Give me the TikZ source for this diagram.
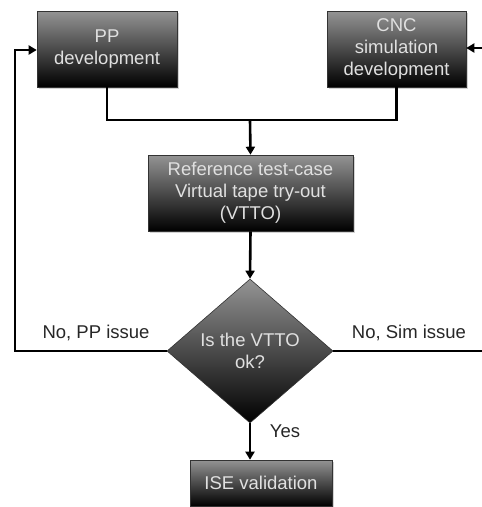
\documentclass[tikz,border=0pt]{standalone}
\usepackage{fontspec}
\setmainfont{Liberation Sans}
\usetikzlibrary{shapes.geometric,shadows,arrows.meta}
\begin{document}
\begin{tikzpicture}[x=1pt,y=-1pt,
  box/.style={rectangle, draw=black!80, line width=0.6pt, top color=black!42, bottom color=black,
    text=black!12, align=center, inner sep=0pt,
    drop shadow={shadow xshift=1.5pt, shadow yshift=-1.5pt, opacity=0.35},
    font=\fontsize{18.5}{22}\selectfont},
  dec/.style={diamond, draw=black!80, line width=0.6pt, top color=black!42, bottom color=black,
    text=black!12, align=center, inner sep=0pt, minimum width=166pt, minimum height=144pt,
    font=\fontsize{18.5}{22}\selectfont},
  lbl/.style={font=\fontsize{18.5}{22}\selectfont, text=black!85},
  conn/.style={line width=2.6pt, -{Triangle[length=8pt,width=9pt]}},
  plain/.style={line width=2.6pt}]
\useasboundingbox (0,0) rectangle (482,507);
\node[box, minimum width=140pt, minimum height=76pt] (pp) at (107,49) {PP\\development};
\node[box, minimum width=139pt, minimum height=76pt] (cnc) at (396.5,49) {CNC\\simulation\\development};
\node[box, minimum width=205pt, minimum height=76pt] (ref) at (250.5,193) {Reference test-case\\Virtual tape try-out\\(VTTO)};
\node[dec] (dia) at (250,351) {Is the VTTO\\ok?};
\node[box, minimum width=142pt, minimum height=46pt] (ise) at (261,483) {ISE validation};
\coordinate (j) at (250,120);
\coordinate (L) at (15,50);
\coordinate (R) at (484,48);
\draw[plain] (pp.south) |- (j) -| (cnc.south);
\draw[conn] (j) -- (ref.north);
\draw[conn] (ref.south) -- (dia.north);
\draw[conn] (dia.west) -| (L) -- (L -| pp.west);
\draw[conn] (dia.east) -| (R) -- (R -| cnc.east);
\draw[conn] (dia.south) -- (dia.south |- ise.north);
\node[lbl] (l1) at (96,333) {No, PP issue};
\node[lbl] (l2) at (409,333) {No, Sim issue};
\node[lbl] (l3) at (285,431) {Yes};
\end{tikzpicture}
\end{document}
